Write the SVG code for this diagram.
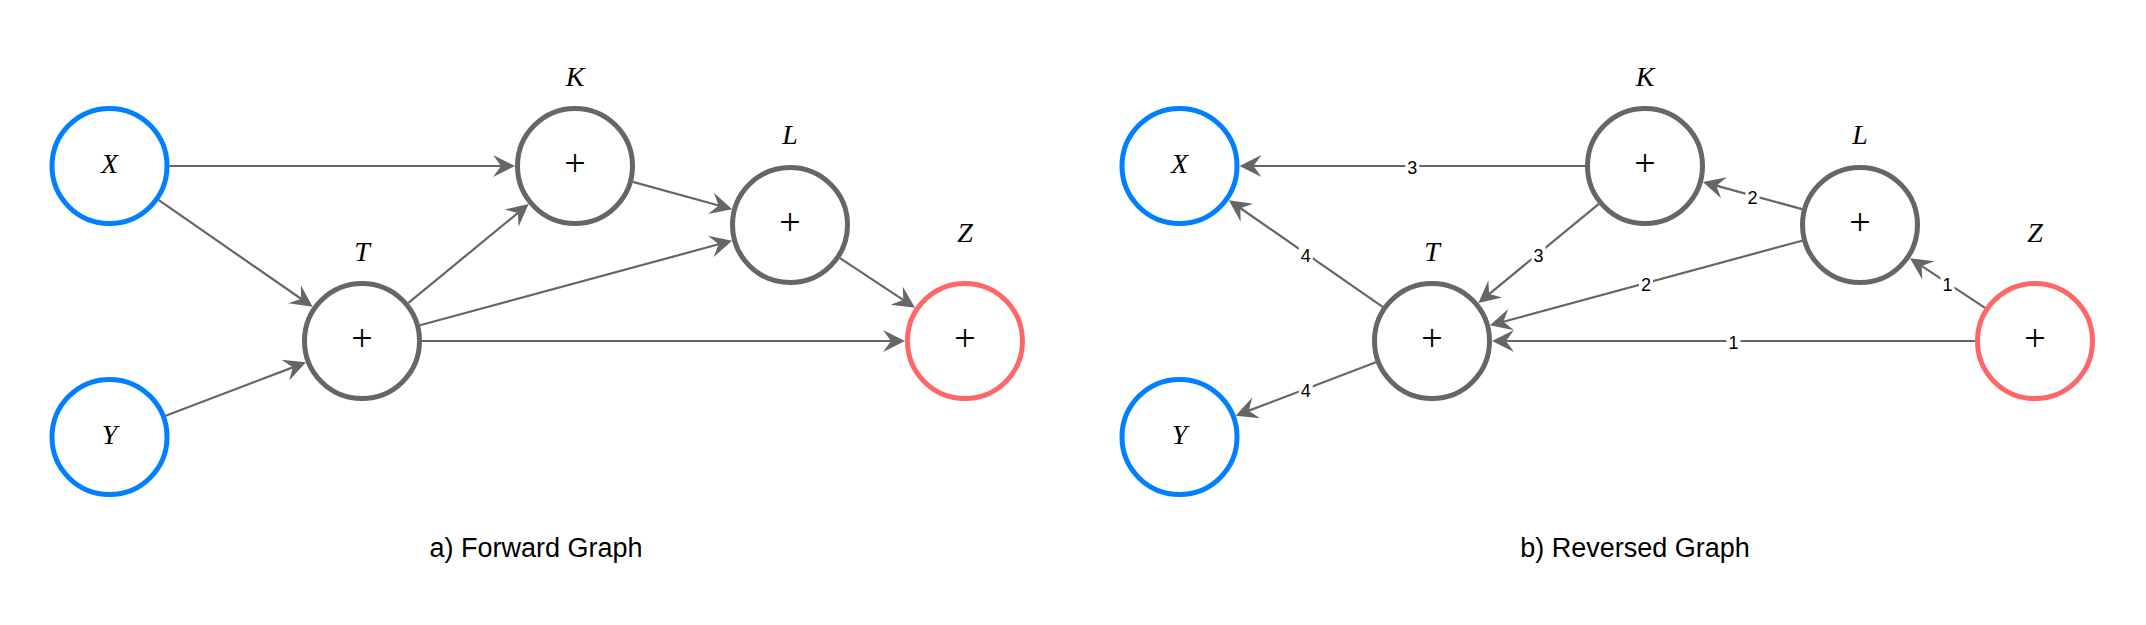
<svg xmlns="http://www.w3.org/2000/svg" width="2146" height="625" viewBox="0 0 2146 625">
<style>
.n{fill:#fff;stroke-width:5}
.in{stroke:#007FFF}
.op{stroke:#666666}
.out{stroke:#FF6666}
.v{font-family:"Liberation Serif","Times New Roman",serif;font-style:italic;font-size:28px;fill:#000;text-anchor:middle}
.p{font-family:"Liberation Serif","Times New Roman",serif;font-size:38px;fill:#000;text-anchor:middle}
.e{fill:none;stroke:#666666;stroke-width:2.2;marker-end:url(#ah)}
.lb{fill:#fff}
.lt{font-family:"Liberation Sans",Arial,Helvetica,sans-serif;font-size:18px;fill:#000;text-anchor:middle}
.cap{font-family:"Liberation Sans",Arial,Helvetica,sans-serif;font-size:27px;fill:#000;text-anchor:middle}
</style>
<defs>
<marker id="ah" viewBox="-11 -12 24 24" refX="0" refY="0" markerWidth="24" markerHeight="24" markerUnits="userSpaceOnUse" orient="auto" overflow="visible">
<path d="M12,0 L-10,-11 L-2,0 L-10,11 Z" fill="#666666"/>
</marker>
</defs>
<rect width="2146" height="625" fill="#fff"/>
<g id="connectors">
<line class="e" x1="169.5" y1="166" x2="503" y2="166"/>
<line class="e" x1="158.8" y1="200.2" x2="302.8" y2="300"/>
<line class="e" x1="165.6" y1="415.7" x2="294.7" y2="366.6"/>
<line class="e" x1="408.4" y1="302.9" x2="519.4" y2="211.7"/>
<line class="e" x1="632.9" y1="181.9" x2="720.6" y2="206"/>
<line class="e" x1="419.9" y1="325.3" x2="720.5" y2="243.8"/>
<line class="e" x1="840" y1="258.2" x2="905" y2="301.2"/>
<line class="e" x1="422" y1="341" x2="893" y2="341"/>
<line class="e" x1="1585" y1="166" x2="1251.5" y2="166"/>
<line class="e" x1="1382.7" y1="306.8" x2="1238.7" y2="207"/>
<line class="e" x1="1375.9" y1="362.3" x2="1246.8" y2="411.4"/>
<line class="e" x1="1598.6" y1="204.1" x2="1487.6" y2="295.3"/>
<line class="e" x1="1802.1" y1="209.1" x2="1714.4" y2="185.1"/>
<line class="e" x1="1802.1" y1="240.7" x2="1501.5" y2="322.2"/>
<line class="e" x1="1985" y1="307.9" x2="1920" y2="264.8"/>
<line class="e" x1="1975" y1="341" x2="1504" y2="341"/>
<g id="edge-labels">
<rect class="lb" x="1405.25" y="158.5" width="14" height="18"/><text class="lt" x="1412.25" y="174">3</text>
<rect class="lb" x="1298.75" y="246" width="14" height="18"/><text class="lt" x="1305.75" y="261.5">4</text>
<rect class="lb" x="1298.75" y="381.5" width="14" height="18"/><text class="lt" x="1305.75" y="397">4</text>
<rect class="lb" x="1531.5" y="246" width="14" height="18"/><text class="lt" x="1538.5" y="261.5">3</text>
<rect class="lb" x="1745.5" y="188" width="14" height="18"/><text class="lt" x="1752.5" y="203.5">2</text>
<rect class="lb" x="1639" y="275.5" width="14" height="18"/><text class="lt" x="1646" y="291">2</text>
<rect class="lb" x="1940.5" y="275.5" width="14" height="18"/><text class="lt" x="1947.5" y="291">1</text>
<rect class="lb" x="1726.5" y="333.5" width="14" height="18"/><text class="lt" x="1733.5" y="349">1</text>
</g>
</g>
<g id="fX"><circle class="n in" cx="109.5" cy="166" r="57.5"/><text class="v" x="109.5" y="173">X</text></g>
<g id="fY"><circle class="n in" cx="109.5" cy="437" r="57.5"/><text class="v" x="109.5" y="444">Y</text></g>
<g id="fT"><circle class="n op" cx="362" cy="341" r="57.5"/><text class="p" x="362" y="350.6">+</text><text class="v" x="362" y="261">T</text></g>
<g id="fK"><circle class="n op" cx="575" cy="166" r="57.5"/><text class="p" x="575" y="175.6">+</text><text class="v" x="575" y="86">K</text></g>
<g id="fL"><circle class="n op" cx="790" cy="225" r="57.5"/><text class="p" x="790" y="234.6">+</text><text class="v" x="790" y="144">L</text></g>
<g id="fZ"><circle class="n out" cx="965" cy="341" r="57.5"/><text class="p" x="965" y="350.6">+</text><text class="v" x="965" y="242">Z</text></g>
<g id="rX"><circle class="n in" cx="1179.5" cy="166" r="57.5"/><text class="v" x="1179.5" y="173">X</text></g>
<g id="rY"><circle class="n in" cx="1179.5" cy="437" r="57.5"/><text class="v" x="1179.5" y="444">Y</text></g>
<g id="rT"><circle class="n op" cx="1432" cy="341" r="57.5"/><text class="p" x="1432" y="350.6">+</text><text class="v" x="1432" y="261">T</text></g>
<g id="rK"><circle class="n op" cx="1645" cy="166" r="57.5"/><text class="p" x="1645" y="175.6">+</text><text class="v" x="1645" y="86">K</text></g>
<g id="rL"><circle class="n op" cx="1860" cy="225" r="57.5"/><text class="p" x="1860" y="234.6">+</text><text class="v" x="1860" y="144">L</text></g>
<g id="rZ"><circle class="n out" cx="2035" cy="341" r="57.5"/><text class="p" x="2035" y="350.6">+</text><text class="v" x="2035" y="242">Z</text></g>
<g id="captions">
<text class="cap" x="536" y="557">a) Forward Graph</text>
<text class="cap" x="1635" y="557">b) Reversed Graph</text>
</g>
</svg>
